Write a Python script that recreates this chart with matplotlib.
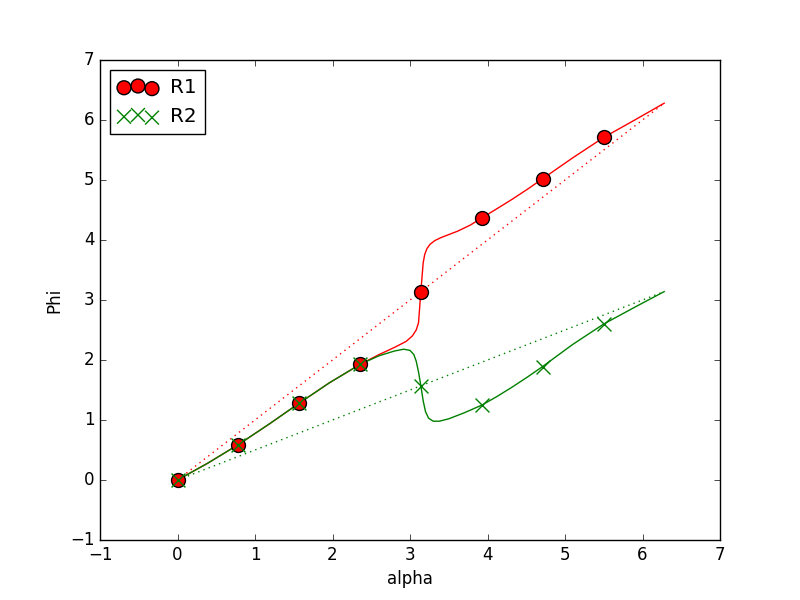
import matplotlib
matplotlib.use("Agg")
import matplotlib.pyplot as plt

plt.style.use("classic")

# marker positions
alpha_pts = [0, 0.785, 1.571, 2.356, 3.142, 3.927, 4.712, 5.498]
r1_pts = [0, 0.59, 1.28, 1.93, 3.14, 4.37, 5.02, 5.71]
r2_pts = [0, 0.59, 1.28, 1.93, 1.57, 1.25, 1.89, 2.60]

# solid curves
r1_x = [0, 0.39, 0.785, 1.18, 1.57, 1.96, 2.36, 2.60, 2.80, 2.95, 3.03, 3.08,
        3.11, 3.14, 3.17, 3.19, 3.22, 3.26, 3.32, 3.40, 3.50, 3.62, 3.78, 3.93,
        4.12, 4.32, 4.52, 4.71, 5.10, 5.50, 5.90, 6.28]
r1_y = [0, 0.28, 0.59, 0.93, 1.28, 1.62, 1.93, 2.09, 2.21, 2.31, 2.40, 2.50,
        2.62, 3.14, 3.62, 3.76, 3.86, 3.93, 3.99, 4.04, 4.09, 4.15, 4.25, 4.37,
        4.52, 4.68, 4.85, 5.02, 5.37, 5.71, 6.00, 6.28]
r2_x = [0, 0.39, 0.785, 1.18, 1.57, 1.96, 2.36, 2.60, 2.80, 2.92, 3.00, 3.05,
        3.08, 3.11, 3.14, 3.17, 3.20, 3.24, 3.30, 3.38, 3.50, 3.70, 3.93, 4.12,
        4.32, 4.52, 4.71, 5.10, 5.50, 5.90, 6.28]
r2_y = [0, 0.28, 0.59, 0.93, 1.28, 1.62, 1.93, 2.07, 2.15, 2.18, 2.16, 2.09,
        1.98, 1.80, 1.57, 1.32, 1.14, 1.03, 0.98, 0.98, 1.02, 1.12, 1.25, 1.39,
        1.55, 1.72, 1.89, 2.26, 2.60, 2.88, 3.14]

# dotted reference lines
ref_x = [0, 6.28]
ref1_y = [0, 6.28]
ref2_y = [0, 3.14]

fig = plt.figure(figsize=(8, 6), facecolor="white")
ax = fig.add_subplot(111)

ax.plot(r1_x, r1_y, "r-")
ax.plot(r2_x, r2_y, "g-")
ax.plot(ref_x, ref1_y, "r:")
ax.plot(ref_x, ref2_y, "g:")
ax.scatter(alpha_pts, r1_pts, s=100, c="red", marker="o", edgecolors="black", label="R1", zorder=3)
ax.scatter(alpha_pts, r2_pts, s=100, c="green", marker="x", label="R2", zorder=3)

ax.set_xlim(-1, 7)
ax.set_ylim(-1, 7)
ax.set_xlabel("alpha")
ax.set_ylabel("Phi")
ax.legend(loc="upper left", scatterpoints=3, scatteryoffsets=[0.375, 0.5, 0.3125],
          handletextpad=0.6)

fig.savefig("out.png", dpi=100, facecolor="white")
